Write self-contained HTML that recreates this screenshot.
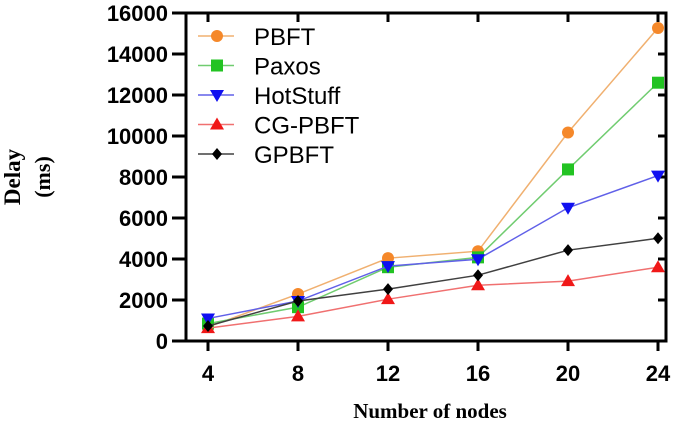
<!DOCTYPE html>
<html><head><meta charset="utf-8"><style>
html,body{margin:0;padding:0;background:#fff;}
svg{display:block;}
</style></head><body>
<svg id="chart" width="685" height="423" xmlns="http://www.w3.org/2000/svg">
<g id="axes"></g>
<g id="series"></g>
<g id="legend"></g>
<text transform="translate(20,177) rotate(-90)" text-anchor="middle" font-family="Liberation Serif, serif" font-weight="bold" font-size="23">Delay</text>
<text transform="translate(50,177) rotate(-90)" text-anchor="middle" font-family="Liberation Serif, serif" font-weight="bold" font-size="22">(ms)</text>
<text x="430" y="418" text-anchor="middle" font-family="Liberation Serif, serif" font-weight="bold" font-size="21">Number of nodes</text>
</svg>
<script>
const categories = [4, 8, 12, 16, 20, 24];
const yTicks = [0, 2000, 4000, 6000, 8000, 10000, 12000, 14000, 16000];
const seriesNames = ["PBFT", "Paxos", "HotStuff", "CG-PBFT", "GPBFT"];
const pbft = [680, 2290, 4040, 4380, 10170, 15270];
const paxos = [850, 1650, 3600, 4080, 8370, 12600];
const hotstuff = [1100, 1950, 3650, 3990, 6500, 8070];
const cgpbft = [630, 1200, 2040, 2720, 2920, 3600];
const gpbft = [730, 1950, 2530, 3210, 4430, 5010];

const NS = "http://www.w3.org/2000/svg";
const L = 186, R = 666, T = 13, B = 341;
const x0 = 208, dx = 90;
function xs(i){ return x0 + i*dx; }
function ys(v){ return B - (v/16000)*(B-T); }
function mk(tag, attrs, parent){
  const e = document.createElementNS(NS, tag);
  for (const k in attrs) e.setAttribute(k, attrs[k]);
  parent.appendChild(e); return e;
}
const axes = document.getElementById('axes');
const frame = mk('rect', {x:L, y:T, width:R-L, height:B-T, fill:'none', stroke:'#000', 'stroke-width':3}, axes);


yTicks.forEach(v => {
  const y = ys(v);
  const t = mk('line', {x1:L-14, x2:L, y1:y, y2:y, stroke:'#000', 'stroke-width':3}, axes);
  
  
  const t2 = mk('line', {x1:R, x2:R-8, y1:y, y2:y, stroke:'#000', 'stroke-width':3}, axes);
  
  
  const lb = mk('text', {x:L-18, y:y+8, 'text-anchor':'end', 'font-family':'Liberation Sans, sans-serif', 'font-weight':'bold', 'font-size':22}, axes);
  lb.textContent = v;
  
  
});
categories.forEach((c, i) => {
  const x = xs(i);
  const t = mk('line', {x1:x, x2:x, y1:B, y2:B+10, stroke:'#000', 'stroke-width':3}, axes);
  
  
  const t2 = mk('line', {x1:x, x2:x, y1:T, y2:T+9, stroke:'#000', 'stroke-width':3}, axes);
  
  
  const lb = mk('text', {x:x, y:B+40, 'text-anchor':'middle', 'font-family':'Liberation Sans, sans-serif', 'font-weight':'bold', 'font-size':22}, axes);
  lb.textContent = c;
  
  
});
const colors = ['#f5882a', '#22c322', '#1010f0', '#f01818', '#000000'];
const lineColors = ['#f0b070', '#70cc70', '#6060e8', '#f07070', '#404040'];
const shapes = ['circle', 'square', 'down', 'up', 'diamond'];
const data = [pbft, paxos, hotstuff, cgpbft, gpbft];
function marker(shape, x, y, col, parent){
  let e;
  if (shape==='circle') e = mk('circle', {cx:x, cy:y, r:6, fill:col}, parent);
  else if (shape==='square') e = mk('rect', {x:x-6, y:y-6, width:12, height:12, fill:col}, parent);
  else if (shape==='down') e = mk('polygon', {points:`${x-7},${y-5} ${x+7},${y-5} ${x},${y+7}`, fill:col}, parent);
  else if (shape==='up') e = mk('polygon', {points:`${x-7},${y+5} ${x+7},${y+5} ${x},${y-7}`, fill:col}, parent);
  else e = mk('polygon', {points:`${x},${y-6} ${x+5},${y} ${x},${y+6} ${x-5},${y}`, fill:col}, parent);
  return e;
}
const sg = document.getElementById('series');
data.forEach((arr, s) => {
  const g = mk('g', {}, sg);
  
  
  const pts = arr.map((v, i) => xs(i) + ',' + ys(v)).join(' ');
  const pl = mk('polyline', {points:pts, fill:'none', stroke:lineColors[s], 'stroke-width':1.5}, g);
  
  
  arr.forEach((v, i) => {
    const m = marker(shapes[s], xs(i), ys(v), colors[s], g);
    
    
  });
});
const lg = document.getElementById('legend');
seriesNames.forEach((n, s) => {
  const y = 36 + s*29.5;
  const g = mk('g', {}, lg);
  
  
  mk('line', {x1:198, x2:234, y1:y, y2:y, stroke:lineColors[s], 'stroke-width':1.5}, g);
  marker(shapes[s], 217, y, colors[s], g);
  const t = mk('text', {x:254, y:y+9, 'font-family':'Liberation Sans, sans-serif', 'font-size':24}, g);
  t.textContent = n;
  
  
});
</script>
</body></html>
